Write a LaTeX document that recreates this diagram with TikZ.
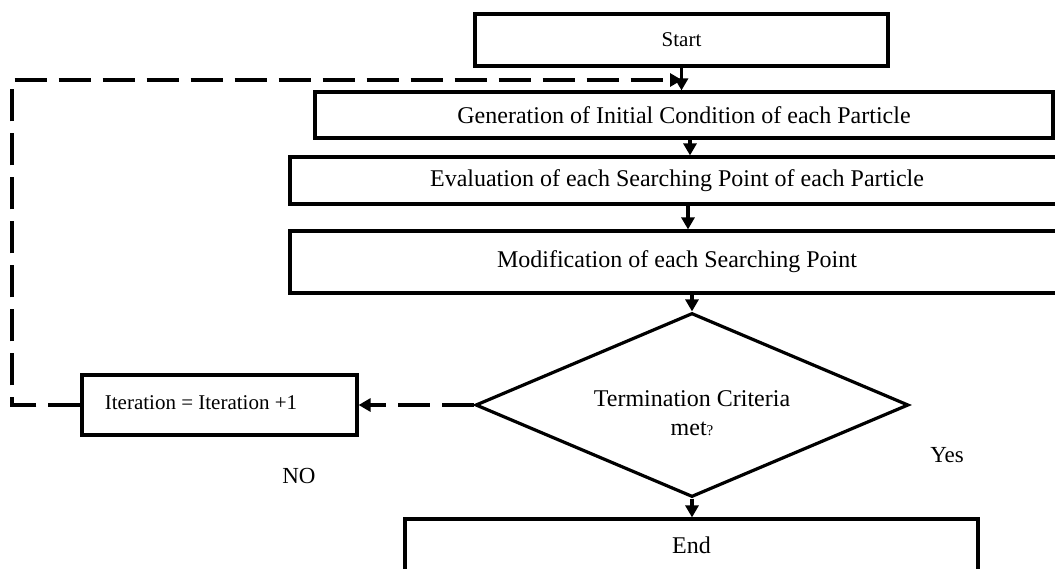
\documentclass[tikz,border=0pt]{standalone}
\usepackage{fontspec}
\setmainfont{Liberation Serif}
\usetikzlibrary{shapes.geometric,arrows.meta}
\begin{document}
\begin{tikzpicture}[x=1pt,y=-1pt,
  box/.style={draw,line width=3.2pt,rectangle,inner sep=0pt,font=\fontsize{24}{28}\selectfont},
  arr/.style={line width=3.2pt,-{Triangle[length=12pt,width=13pt]}},
  darr/.style={line width=3.2pt,dash pattern=on 32pt off 12pt,-{Triangle[length=12pt,width=13pt]}},
  dline/.style={line width=3.2pt,dash pattern=on 32pt off 12pt},
  lbl/.style={inner sep=0pt}]
\useasboundingbox (0,0) rectangle (1055,568);
\node[box,minimum width=413,minimum height=52,font=\fontsize{21}{25}\selectfont] (start) at (681.5,40) {Start};
\node[box,minimum width=738,minimum height=46] (gen) at (684,115) {Generation of Initial Condition of each Particle};
\node[box,minimum width=774,minimum height=47] (eval) at (677,180.5) {Evaluation of each Searching Point of each Particle};
\node[box,minimum width=774,minimum height=62] (mod) at (677,262) {Modification of each Searching Point};
\node[draw,diamond,line width=3.2pt,inner sep=0pt,minimum width=433,minimum height=184] (dia) at (692,405) {};
\node[lbl,align=center,font=\fontsize{24}{29}\selectfont] (dtext) at (692,413) {Termination Criteria\\met{\fontsize{15}{18}\selectfont ?}};
\node[box,minimum width=573,minimum height=52] (end) at (691.5,545) {End};
\node[box,minimum width=275,minimum height=60] (iter) at (219.5,405) {};
\node[lbl,font=\fontsize{21}{25}\selectfont] (itertext) at (201,403) {Iteration = Iteration +1};
\node[lbl,font=\fontsize{23}{27}\selectfont] (no) at (299,476) {NO};
\node[lbl,font=\fontsize{23}{27}\selectfont] (yes) at (947,455) {Yes};
\coordinate (c1) at (12,405);
\coordinate (c2) at (12,80);
\coordinate (c3) at (682,80);
\draw[arr] (start.south) -- (start.south |- gen.north);
\draw[arr] ([xshift=6pt]gen.south) -- ([xshift=6pt]gen.south |- eval.north);
\draw[arr] ([xshift=11pt]eval.south) -- ([xshift=11pt]eval.south |- mod.north);
\draw[arr] (dia.north |- mod.south) -- (dia.north);
\draw[arr] (dia.south) -- (dia.south |- end.north);
\draw[darr] (dia.west) -- (iter.east);
\draw[darr] (iter.west) -- (c1) -- (c2) -- (c3);
\end{tikzpicture}
\end{document}
